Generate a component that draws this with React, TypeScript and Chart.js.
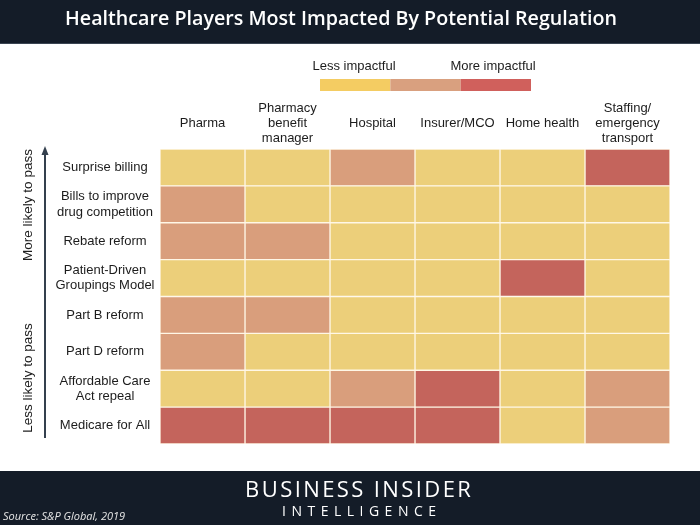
import React, { useEffect, useRef } from 'react';
import { Chart, registerables } from 'chart.js';

Chart.register(...registerables);

const title = 'Healthcare Players Most Impacted By Potential Regulation';
const columns: string[][] = [
  ['Pharma'],
  ['Pharmacy', 'benefit', 'manager'],
  ['Hospital'],
  ['Insurer/MCO'],
  ['Home health'],
  ['Staffing/', 'emergency', 'transport'],
];
const rows: string[][] = [
  ['Surprise billing'],
  ['Bills to improve', 'drug competition'],
  ['Rebate reform'],
  ['Patient-Driven', 'Groupings Model'],
  ['Part B reform'],
  ['Part D reform'],
  ['Affordable Care', 'Act repeal'],
  ['Medicare for All'],
];
// impact level per column: 1 = less, 2 = medium, 3 = more impactful
const surpriseBilling = [1, 1, 2, 1, 1, 3];
const drugCompetition = [2, 1, 1, 1, 1, 1];
const rebateReform = [2, 2, 1, 1, 1, 1];
const pdgm = [1, 1, 1, 1, 3, 1];
const partB = [2, 2, 1, 1, 1, 1];
const partD = [2, 1, 1, 1, 1, 1];
const acaRepeal = [1, 1, 2, 3, 1, 2];
const medicareForAll = [3, 3, 3, 3, 1, 2];
const impact = [surpriseBilling, drugCompetition, rebateReform, pdgm, partB, partD, acaRepeal, medicareForAll];

const levelColors = ['#ffffff', '#ECCF7A', '#D99E7C', '#C4645C'];
const legendLabels = ['Less impactful', 'More impactful'];
const legendColors = ['#F4CC62', '#D9A07F', '#D0605C'];
const passLabels = ['More likely to pass', 'Less likely to pass'];
const sourceText = 'Source: S&P Global, 2019';
const brandLines = ['BUSINESS INSIDER', 'INTELLIGENCE'];

const DARK = '#141C28';
const TEXT = '#1c1c1c';

function drawSpaced(ctx: CanvasRenderingContext2D, text: string, cx: number, y: number, spacing: number) {
  const chars = Array.from(text);
  const widths = chars.map((c) => ctx.measureText(c).width);
  const total = widths.reduce((a, b) => a + b, 0) + spacing * (chars.length - 1);
  let x = cx - total / 2;
  ctx.textAlign = 'left';
  chars.forEach((c, i) => {
    ctx.fillText(c, x, y);
    x += widths[i] + spacing;
  });
}

const decorPlugin = {
  id: 'decor',
  beforeDraw(chart: any) {
    const ctx: CanvasRenderingContext2D = chart.ctx;
    const W = chart.width;
    const H = chart.height;
    ctx.save();
    ctx.fillStyle = '#ffffff';
    ctx.fillRect(0, 0, W, H);
    // title bar
    ctx.fillStyle = DARK;
    ctx.fillRect(0, 0, W, 43);
    ctx.fillStyle = '#3a4452';
    ctx.fillRect(0, 43, W, 1);
    ctx.fillStyle = '#ffffff';
    ctx.textBaseline = 'middle';
    ctx.textAlign = 'center';
    ctx.font = '600 20px "Open Sans"';
    const tw = ctx.measureText(title).width;
    const size = (20 * 552) / tw;
    ctx.font = `600 ${size}px "Open Sans"`;
    ctx.fillText(title, 341, 19);
    // footer bar
    ctx.fillStyle = DARK;
    ctx.fillRect(0, 471, W, H - 471);
    ctx.fillStyle = '#ffffff';
    ctx.font = '400 22px "Open Sans"';
    ctx.textBaseline = 'middle';
    drawSpaced(ctx, brandLines[0], 358, 491, 2.4);
    ctx.font = '400 14px "Open Sans"';
    drawSpaced(ctx, brandLines[1], 359, 512, 5.5);
    ctx.font = 'italic 400 11px "Open Sans"';
    ctx.textAlign = 'left';
    ctx.fillStyle = '#e6e6e6';
    ctx.fillText(sourceText, 3, 517);
    ctx.restore();
  },
  afterDraw(chart: any) {
    const ctx: CanvasRenderingContext2D = chart.ctx;
    const xs = chart.scales.x;
    const ys = chart.scales.y;
    ctx.save();
    // legend
    ctx.fillStyle = TEXT;
    ctx.font = '13px "Liberation Sans"';
    ctx.textAlign = 'center';
    ctx.textBaseline = 'middle';
    ctx.fillText(legendLabels[0], 354, 66);
    ctx.fillText(legendLabels[1], 493, 66);
    const segW = 211 / legendColors.length;
    legendColors.forEach((c, i) => {
      ctx.fillStyle = c;
      ctx.fillRect(320 + i * segW, 79, segW, 12);
    });
    // column headers
    ctx.fillStyle = TEXT;
    ctx.font = '13px "Liberation Sans"';
    columns.forEach((lines, j) => {
      const cx = xs.getPixelForValue(j + 0.5);
      const lh = 15;
      const y0 = 123 - ((lines.length - 1) * lh) / 2;
      lines.forEach((l, k) => ctx.fillText(l, cx, y0 + k * lh));
    });
    // row labels
    ctx.font = '13px "Liberation Sans"';
    rows.forEach((lines, i) => {
      const cy = ys.getPixelForValue(i);
      const lh = 15.5;
      const y0 = cy - ((lines.length - 1) * lh) / 2;
      lines.forEach((l, k) => ctx.fillText(l, 105, y0 + k * lh));
    });
    // arrow
    ctx.strokeStyle = '#34404e';
    ctx.fillStyle = '#34404e';
    ctx.lineWidth = 2;
    ctx.beginPath();
    ctx.moveTo(45, 153);
    ctx.lineTo(45, 438);
    ctx.stroke();
    ctx.beginPath();
    ctx.moveTo(45, 146);
    ctx.lineTo(48.5, 155);
    ctx.lineTo(41.5, 155);
    ctx.closePath();
    ctx.fill();
    // rotated labels
    ctx.fillStyle = TEXT;
    ctx.font = '13.5px "Liberation Sans"';
    const rot = (text: string, cx: number, cy: number) => {
      ctx.save();
      ctx.translate(cx, cy);
      ctx.rotate(-Math.PI / 2);
      ctx.textAlign = 'center';
      ctx.textBaseline = 'middle';
      ctx.fillText(text, 0, 0);
      ctx.restore();
    };
    rot(passLabels[0], 28, 205);
    rot(passLabels[1], 28, 378);
    ctx.restore();
  },
};

export default function App() {
  const ref = useRef<HTMLCanvasElement | null>(null);
  useEffect(() => {
    document.body.style.margin = '0';
    const canvas = ref.current;
    if (!canvas) return;
    const datasets = columns.map((col, j) => ({
      label: col.join(' '),
      data: rows.map(() => 1),
      backgroundColor: impact.map((r) => levelColors[r[j]]),
      borderColor: '#FFF7E6',
      borderWidth: 1,
      borderSkipped: false,
      barPercentage: 1,
      categoryPercentage: 1,
    }));
    const chart = new Chart(canvas, {
      type: 'bar',
      data: { labels: rows.map((r) => r.join(' ')), datasets: datasets as any },
      options: {
        indexAxis: 'y',
        responsive: false,
        animation: false,
        devicePixelRatio: 1,
        layout: { padding: { left: 160, right: 30, top: 149, bottom: 81 } },
        scales: {
          x: { type: 'linear', stacked: true, min: 0, max: 6, display: false },
          y: { type: 'category', stacked: true, display: false },
        },
        plugins: { legend: { display: false }, tooltip: { enabled: false }, title: { display: false } },
      },
      plugins: [decorPlugin],
    });
    return () => chart.destroy();
  }, []);
  return (
    <div style={{ position: 'absolute', left: 0, top: 0, width: 700, height: 525 }}>
      <canvas ref={ref} width={700} height={525} style={{ width: 700, height: 525, display: 'block' }} />
    </div>
  );
}
